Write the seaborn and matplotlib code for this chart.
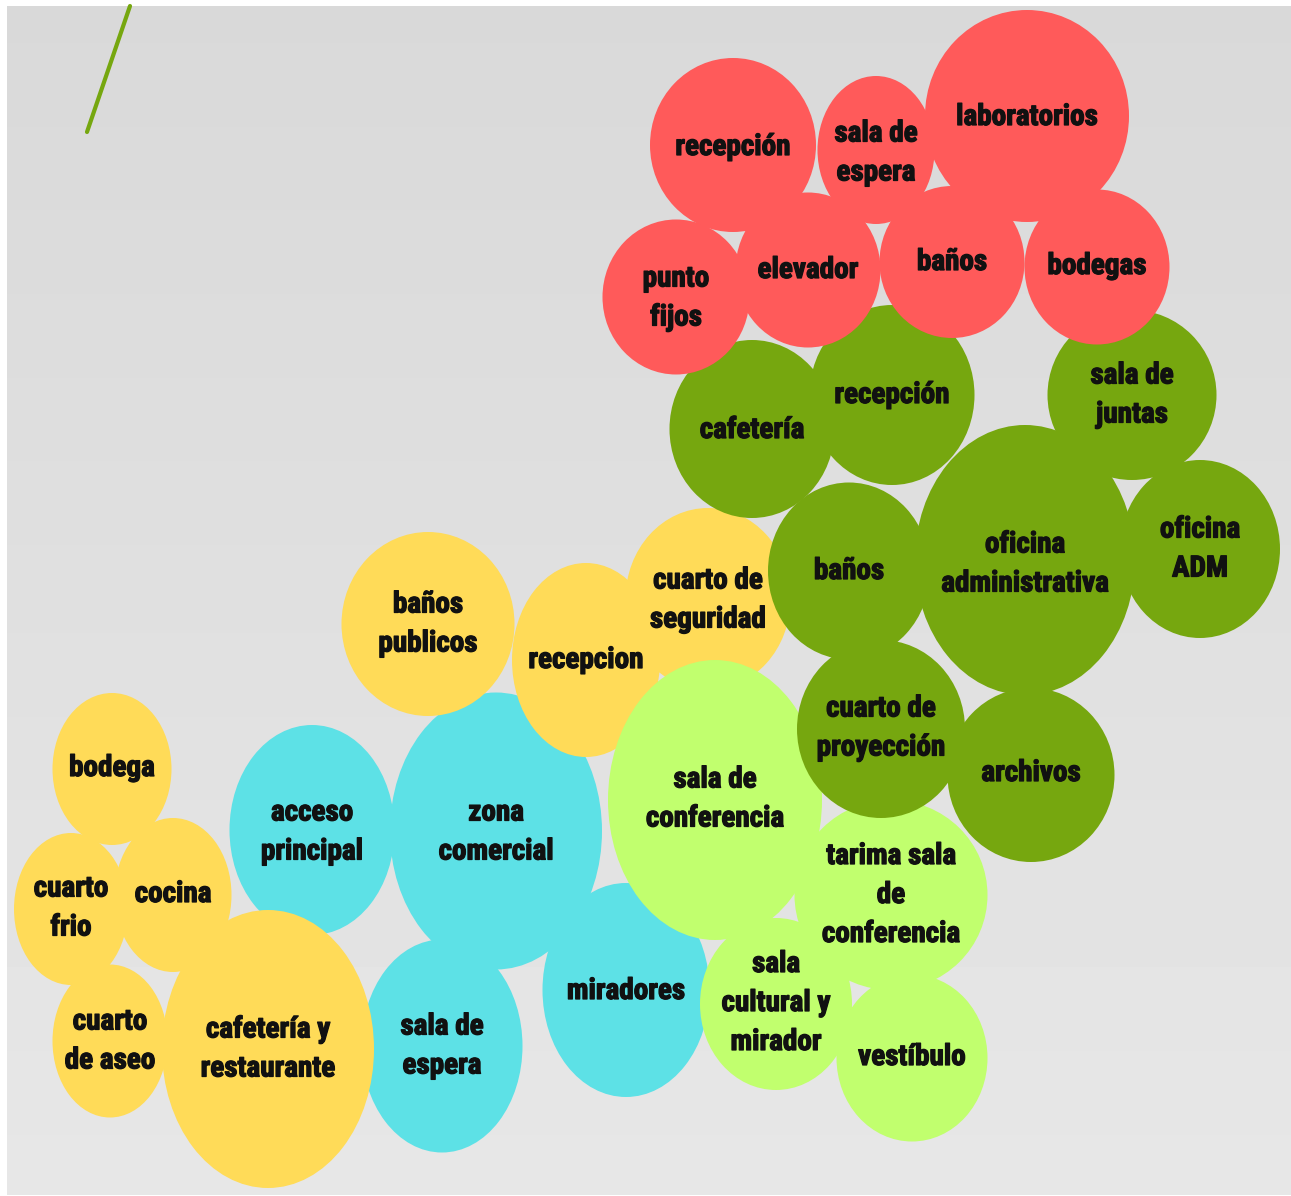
import numpy as np
import matplotlib
matplotlib.use("Agg")
import matplotlib.pyplot as plt
import matplotlib.patheffects as pe
from matplotlib.patches import Ellipse
from matplotlib import font_manager
import seaborn as sns

# --- datos del diagrama de burbujas (coordenadas en pixeles de la imagen) ---
grupos = ["cyan", "amarillo", "verde claro", "verde", "rojo"]
colores = ["#5DE1E6", "#FFDB58", "#C1FF6E", "#76A70F", "#FF5A5A"]

etiquetas = [
    # cyan
    "acceso\nprincipal", "zona\ncomercial", "sala de\nespera", "miradores",
    # amarillo
    "baños\npublicos", "recepcion", "cuarto de\nseguridad", "bodega", "cuarto\nfrio",
    "cocina", "cuarto\nde aseo", "cafetería y\nrestaurante",
    # verde claro
    "sala de\nconferencia", "tarima sala\nde\nconferencia", "sala\ncultural y\nmirador", "vestíbulo",
    # verde
    "cafetería", "recepción", "sala de\njuntas", "oficina\nadministrativa", "oficina\nADM",
    "baños", "cuarto de\nproyección", "archivos",
    # rojo
    "recepción", "sala de\nespera", "laboratorios", "punto\nfijos", "elevador", "baños", "bodegas",
]
grupo = (["cyan"] * 4 + ["amarillo"] * 8 + ["verde claro"] * 4
         + ["verde"] * 8 + ["rojo"] * 7)
cx = [312, 496, 442, 626,
      428, 586, 708, 112, 71, 173, 110, 268,
      715, 891, 776, 912,
      752, 892, 1132, 1025, 1200, 849, 881, 1031,
      733, 876, 1027, 676, 808, 952, 1097]
cy = [830, 831, 1046, 990,
      624, 660, 599, 769, 909, 895, 1041, 1049,
      800, 895, 1004, 1058,
      429, 395, 395, 560, 549, 571, 729, 775,
      145, 150, 116, 297, 270, 262, 267]
ancho = [165, 212, 161, 167,
         173, 148, 165, 119, 114, 117, 115, 212,
         214, 193, 152, 151,
         165, 165, 169, 220, 160, 162, 168, 167,
         166, 117, 204, 147, 145, 145, 145]
alto = [210, 277, 213, 214,
        184, 194, 182, 152, 152, 154, 153, 278,
        280, 190, 172, 167,
        178, 180, 170, 270, 178, 177, 178, 174,
        174, 148, 212, 155, 155, 152, 155]
texto_y = [832, 832, 1046, 991,
           624, 660, 600, 768, 908, 894, 1041, 1049,
           799, 895, 1003, 1057,
           430, 395, 395, 564, 549, 571, 728, 773,
           147, 153, 117, 298, 270, 262, 266]

# linea verde arriba a la izquierda
linea_x = [130, 87]
linea_y = [6, 132]

W, H = 1291, 1196

sns.set_theme(style="white")

disponibles = {f.name for f in font_manager.fontManager.ttflist}
fuente = "DejaVu Sans"
for cand in ["Liberation Sans Narrow", "DejaVu Sans Condensed", "Roboto Condensed",
             "Open Sans Condensed", "Noto Sans Condensed", "Roboto"]:
    if cand in disponibles:
        fuente = cand
        break
plt.rcParams["font.family"] = [fuente, "DejaVu Sans"]

fig = plt.figure(figsize=(W / 100, H / 100), dpi=100)
ax = fig.add_axes([0, 0, 1, 1])
ax.set_xlim(0, W)
ax.set_ylim(H, 0)
ax.axis("off")

# fondo gris degradado
grad = np.linspace(0.85, 0.905, 256).reshape(-1, 1)
ax.imshow(grad, cmap="gray", vmin=0, vmax=1, extent=[7, W, 1195, 6],
          aspect="auto", zorder=0)

paleta = dict(zip(grupos, sns.color_palette(colores)))
orden = {g: i for i, g in enumerate(grupos)}

ax.plot(linea_x, linea_y, color=paleta["verde"], lw=3.0, solid_capstyle="round", zorder=1)

for i, lab in enumerate(etiquetas):
    g = grupo[i]
    e = Ellipse((cx[i], cy[i]), ancho[i], alto[i], facecolor=paleta[g],
                edgecolor="none", zorder=2 + orden[g])
    ax.add_patch(e)

# texto grueso: trazo fino del mismo color para engrosar
trazo = [pe.withStroke(linewidth=0.9, foreground="#111111")]
for i, lab in enumerate(etiquetas):
    ax.text(cx[i], texto_y[i], lab, ha="center", va="center", fontsize=21,
            fontweight="heavy", color="#111111", linespacing=1.5, zorder=10,
            path_effects=trazo)

fig.savefig("out.png", dpi=100)
